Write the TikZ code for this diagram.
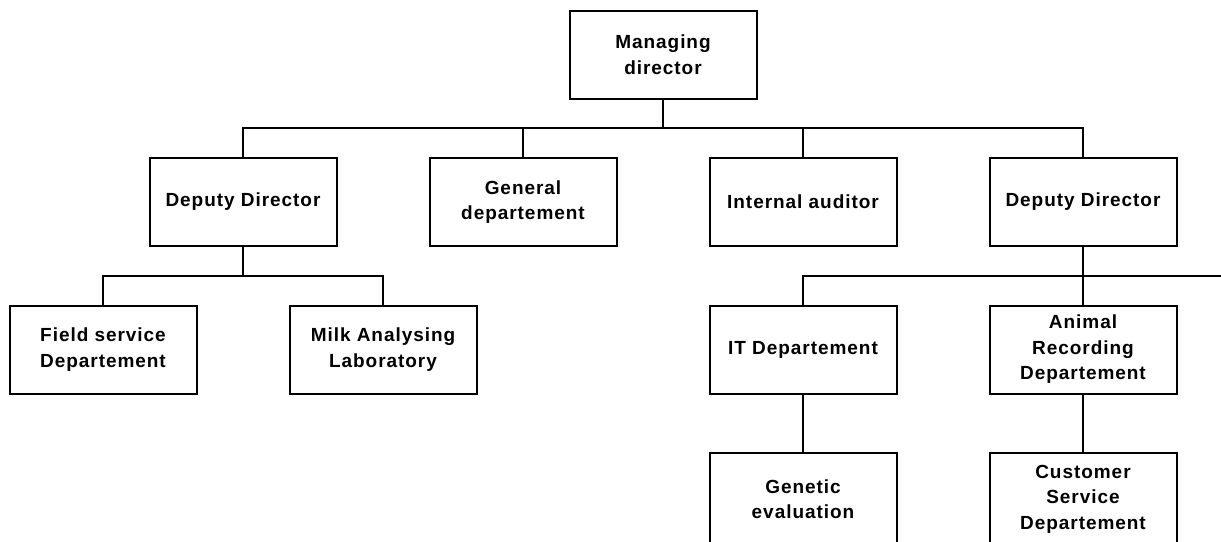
\documentclass[tikz,border=0pt]{standalone}
\usepackage{fontspec}
\newfontfamily\boxfont[LetterSpace=5]{Liberation Sans}
\usetikzlibrary{positioning, calc}

\begin{document}
\begin{tikzpicture}[x=1pt, y=1pt, on grid, node distance=147.5pt and 280pt,
    box/.style={draw, line width=2pt, rectangle, minimum width=187pt, minimum height=88pt, inner sep=0pt, align=center, font={\boxfont\bfseries\fontsize{19}{25.5}\selectfont}},
    cutbox/.style={box, minimum height=92pt, yshift=-2pt},
    link/.style={line width=2pt}]
    \path[use as bounding box] (0,0) coordinate (tl) rectangle (1221,-541) coordinate (br);

    % Nodes
    \node[box] (deputy left) at (243,-202) {Deputy Director};
    \node[box, right=of deputy left] (general) {General\\departement};
    \node[box, right=of general] (auditor) {Internal auditor};
    \node[box, right=of auditor] (deputy right) {Deputy Director};
    \coordinate (mid) at ($(general)!0.5!(auditor)$);
    \node[box] (managing) at ($(mid)+(0,147.5)$) {Managing\\director};
    \node[box, below=of deputy left, xshift=-140pt] (field) {Field service\\Departement};
    \node[box, below=of deputy left, xshift=140pt] (milk) {Milk Analysing\\Laboratory};
    \node[box, below=of auditor] (it) {IT Departement};
    \node[box, below=of deputy right] (animal) {Animal\\Recording\\Departement};
    \node[cutbox, below=of it] (genetic) {Genetic\\evaluation};
    \node[cutbox, below=of animal] (customer) {Customer\\Service\\Departement};

    % Bus points
    \coordinate (top bus) at ($(managing.south)!0.5!(managing.south |- general.north)$);
    \coordinate (left bus) at ($(deputy left.south)!0.5!(deputy left.south |- field.north)$);
    \coordinate (right bus) at ($(deputy right.south)!0.5!(deputy right.south |- animal.north)$);

    % Connections
    \draw[link] (managing.south) -- (top bus);
    \draw[link] (deputy left.north) |- (top bus);
    \draw[link] (deputy right.north) |- (top bus);
    \draw[link] (general.north) -- (general.north |- top bus);
    \draw[link] (auditor.north) -- (auditor.north |- top bus);
    \draw[link] (deputy left.south) -- (left bus);
    \draw[link] (field.north) |- (left bus);
    \draw[link] (milk.north) |- (left bus);
    \draw[link] (deputy right.south) -- (animal.north);
    \draw[link] (it.north) |- (right bus) -- (right bus -| br);
    \draw[link] (it) -- (genetic);
    \draw[link] (animal) -- (customer);
\end{tikzpicture}
\end{document}
